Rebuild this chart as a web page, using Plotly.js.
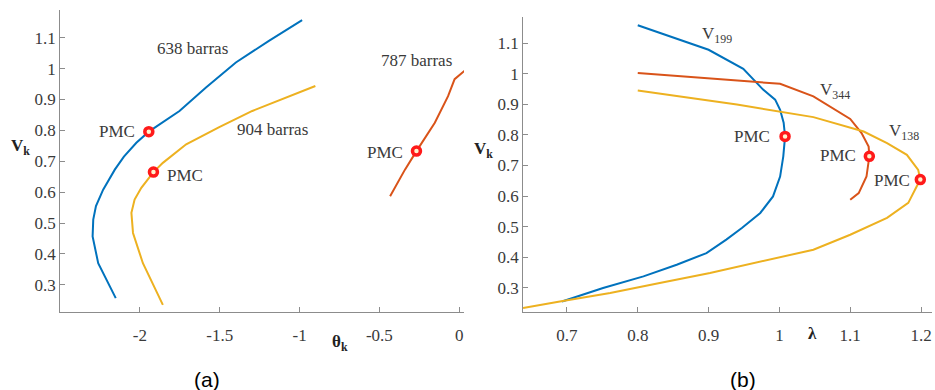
<!DOCTYPE html>
<html><head><meta charset="utf-8">
<script src="https://cdn.plot.ly/plotly-3.0.1.min.js"></script>
<style>html,body{margin:0;padding:0;background:#fff}#chart{width:935px;height:390px}</style>
</head><body><div id="chart"></div>
<script>
// (a) V vs theta
const thetaBlue638 = [-0.984, -1.192, -1.399, -1.586, -1.752, -1.944, -2.022, -2.10, -2.157, -2.23, -2.275, -2.292, -2.296, -2.261, -2.151];
const vBlue638     = [1.157, 1.09, 1.02, 0.939, 0.863, 0.796, 0.76, 0.715, 0.673, 0.608, 0.555, 0.511, 0.457, 0.37, 0.257];
const thetaYel904  = [-0.901, -1.088, -1.296, -1.503, -1.71, -1.856, -1.915, -1.991, -2.033, -2.053, -2.043, -1.981, -1.856];
const vYel904      = [0.944, 0.906, 0.863, 0.811, 0.755, 0.695, 0.665, 0.614, 0.576, 0.533, 0.468, 0.37, 0.235];
const thetaOr787   = [-0.433, -0.34, -0.268, -0.153, -0.07, -0.029, 0.044];
const vOr787       = [0.587, 0.673, 0.733, 0.825, 0.911, 0.966, 0.998];
const pmcTheta = [-1.944, -1.915, -0.268];
const pmcVa    = [0.796, 0.665, 0.733];
// (b) V vs lambda
const lamBlue199 = [0.80, 0.845, 0.90, 0.949, 0.977, 0.994, 1.001, 1.006, 1.008, 1.0055, 1.001, 0.991, 0.973, 0.947, 0.925, 0.897, 0.855, 0.808, 0.751, 0.693];
const vBlue199   = [1.158, 1.122, 1.078, 1.016, 0.948, 0.915, 0.882, 0.84, 0.795, 0.73, 0.664, 0.599, 0.545, 0.496, 0.458, 0.414, 0.376, 0.338, 0.30, 0.256];
const lamOr344   = [0.80, 1.001, 1.048, 1.10, 1.116, 1.126, 1.127, 1.123, 1.112, 1.10];
const vOr344     = [1.002, 0.967, 0.926, 0.852, 0.806, 0.762, 0.73, 0.664, 0.61, 0.588];
const lamYel138  = [0.80, 0.94, 1.048, 1.119, 1.152, 1.18, 1.196, 1.199, 1.194, 1.182, 1.152, 1.10, 1.048, 0.973, 0.902, 0.831, 0.761, 0.69, 0.638];
const vYel138    = [0.945, 0.899, 0.858, 0.811, 0.773, 0.735, 0.686, 0.654, 0.632, 0.578, 0.529, 0.474, 0.425, 0.387, 0.349, 0.316, 0.284, 0.256, 0.235];
const pmcLam = [1.008, 1.127, 1.199];
const pmcVb  = [0.795, 0.73, 0.654];
// ticks
const yTickVals = [0.3, 0.4, 0.5, 0.6, 0.7, 0.8, 0.9, 1.0, 1.1];
const yTickText = ['0.3', '0.4', '0.5', '0.6', '0.7', '0.8', '0.9', '1', '1.1'];
const xaTickVals = [-2, -1.5, -1, -0.5, 0];
const xaTickText = ['-2', '-1.5', '-1', '-0.5', '0'];
const xbTickVals = [0.7, 0.8, 0.9, 1.0, 1.1, 1.2];
const xbTickText = ['0.7', '0.8', '0.9', '1', '1.1', '1.2'];

const BLUE = '#0072BD', ORANGE = '#D95319', YELLOW = '#EDB120';
const serif = 'Liberation Serif';
const txtCol = '#3a3a3a';

function line(x, y, c, xa, ya) {
  return {x: x, y: y, type: 'scatter', mode: 'lines', line: {color: c, width: 2}, xaxis: xa, yaxis: ya, hoverinfo: 'skip'};
}
function pmc(x, y, xa, ya) {
  return {x: x, y: y, type: 'scatter', mode: 'markers', xaxis: xa, yaxis: ya,
    marker: {symbol: 'circle', size: 8, color: '#fff2cc', line: {color: '#ff1a1a', width: 3.5}}, hoverinfo: 'skip'};
}
const data = [
  line(thetaBlue638, vBlue638, BLUE, 'x', 'y'),
  line(thetaYel904, vYel904, YELLOW, 'x', 'y'),
  line(thetaOr787, vOr787, ORANGE, 'x', 'y'),
  pmc(pmcTheta, pmcVa, 'x', 'y'),
  line(lamBlue199, vBlue199, BLUE, 'x2', 'y2'),
  line(lamOr344, vOr344, ORANGE, 'x2', 'y2'),
  line(lamYel138, vYel138, YELLOW, 'x2', 'y2'),
  pmc(pmcLam, pmcVb, 'x2', 'y2')
];

const axBase = {showline: true, linecolor: '#8c8c8c', linewidth: 1, ticks: 'inside', ticklen: 5, tickcolor: '#8c8c8c',
  showgrid: false, zeroline: false, tickfont: {family: serif, size: 17, color: txtCol}};

function ann(text, x, y, xref, yref, xanchor, extra) {
  return Object.assign({text: text, x: x, y: y, xref: xref, yref: yref, xanchor: xanchor, yanchor: 'middle',
    showarrow: false, font: {family: serif, size: 17, color: txtCol}}, extra || {});
}
const titleFont = {family: serif, size: 17, color: '#222'};
const annotations = [
  ann('638 barras', -1.671, 1.066, 'x', 'y', 'center'),
  ann('904 barras', -1.167, 0.803, 'x', 'y', 'center'),
  ann('787 barras', -0.27, 1.027, 'x', 'y', 'center'),
  ann('PMC', -2.02, 0.797, 'x', 'y', 'right'),
  ann('PMC', -1.84, 0.654, 'x', 'y', 'left'),
  ann('PMC', -0.338, 0.729, 'x', 'y', 'right'),
  ann('V<sub>199</sub>', 0.888, 1.125, 'x2', 'y2', 'left'),
  ann('V<sub>344</sub>', 1.0545, 0.943, 'x2', 'y2', 'left'),
  ann('V<sub>138</sub>', 1.152, 0.808, 'x2', 'y2', 'left'),
  ann('PMC', 0.99, 0.794, 'x2', 'y2', 'right'),
  ann('PMC', 1.111, 0.732, 'x2', 'y2', 'right'),
  ann('PMC', 1.187, 0.650, 'x2', 'y2', 'right'),
  ann('<b>V<sub>k</sub></b>', 0.0214, 0.623, 'paper', 'paper', 'center', {font: titleFont}),
  ann('<b>V<sub>k</sub></b>', 0.5166, 0.615, 'paper', 'paper', 'center', {font: titleFont}),
  ann('<b>θ<sub>k</sub></b>', 0.3636, 0.1205, 'paper', 'paper', 'center', {font: titleFont}),
  ann('<b>λ</b>', 0.8695, 0.146, 'paper', 'paper', 'center', {font: titleFont}),
  ann('(a)', 0.2214, 0.026, 'paper', 'paper', 'center', {font: {family: 'Liberation Sans', size: 21, color: '#000'}}),
  ann('(b)', 0.7947, 0.026, 'paper', 'paper', 'center', {font: {family: 'Liberation Sans', size: 21, color: '#000'}})
];

const layout = {
  width: 935, height: 390, margin: {l: 0, r: 0, t: 0, b: 0}, showlegend: false,
  paper_bgcolor: '#fff', plot_bgcolor: '#fff',
  xaxis: Object.assign({}, axBase, {domain: [0.0642, 0.4963], range: [-2.5, 0.03], tickvals: xaTickVals, ticktext: xaTickText, anchor: 'y', ticklabelstandoff: 8}),
  yaxis: Object.assign({}, axBase, {domain: [0.2, 0.9744], range: [0.212, 1.19], tickvals: yTickVals, ticktext: yTickText, anchor: 'x'}),
  xaxis2: Object.assign({}, axBase, {domain: [0.5594, 0.9968], range: [0.638, 1.2155], tickvals: xbTickVals, ticktext: xbTickText, anchor: 'y2', ticklabelstandoff: 8}),
  yaxis2: Object.assign({}, axBase, {domain: [0.2, 0.9564], range: [0.2216, 1.185], tickvals: yTickVals, ticktext: yTickText, anchor: 'x2'}),
  annotations: annotations
};
Plotly.newPlot('chart', data, layout, {staticPlot: true, displayModeBar: false});
</script></body></html>
